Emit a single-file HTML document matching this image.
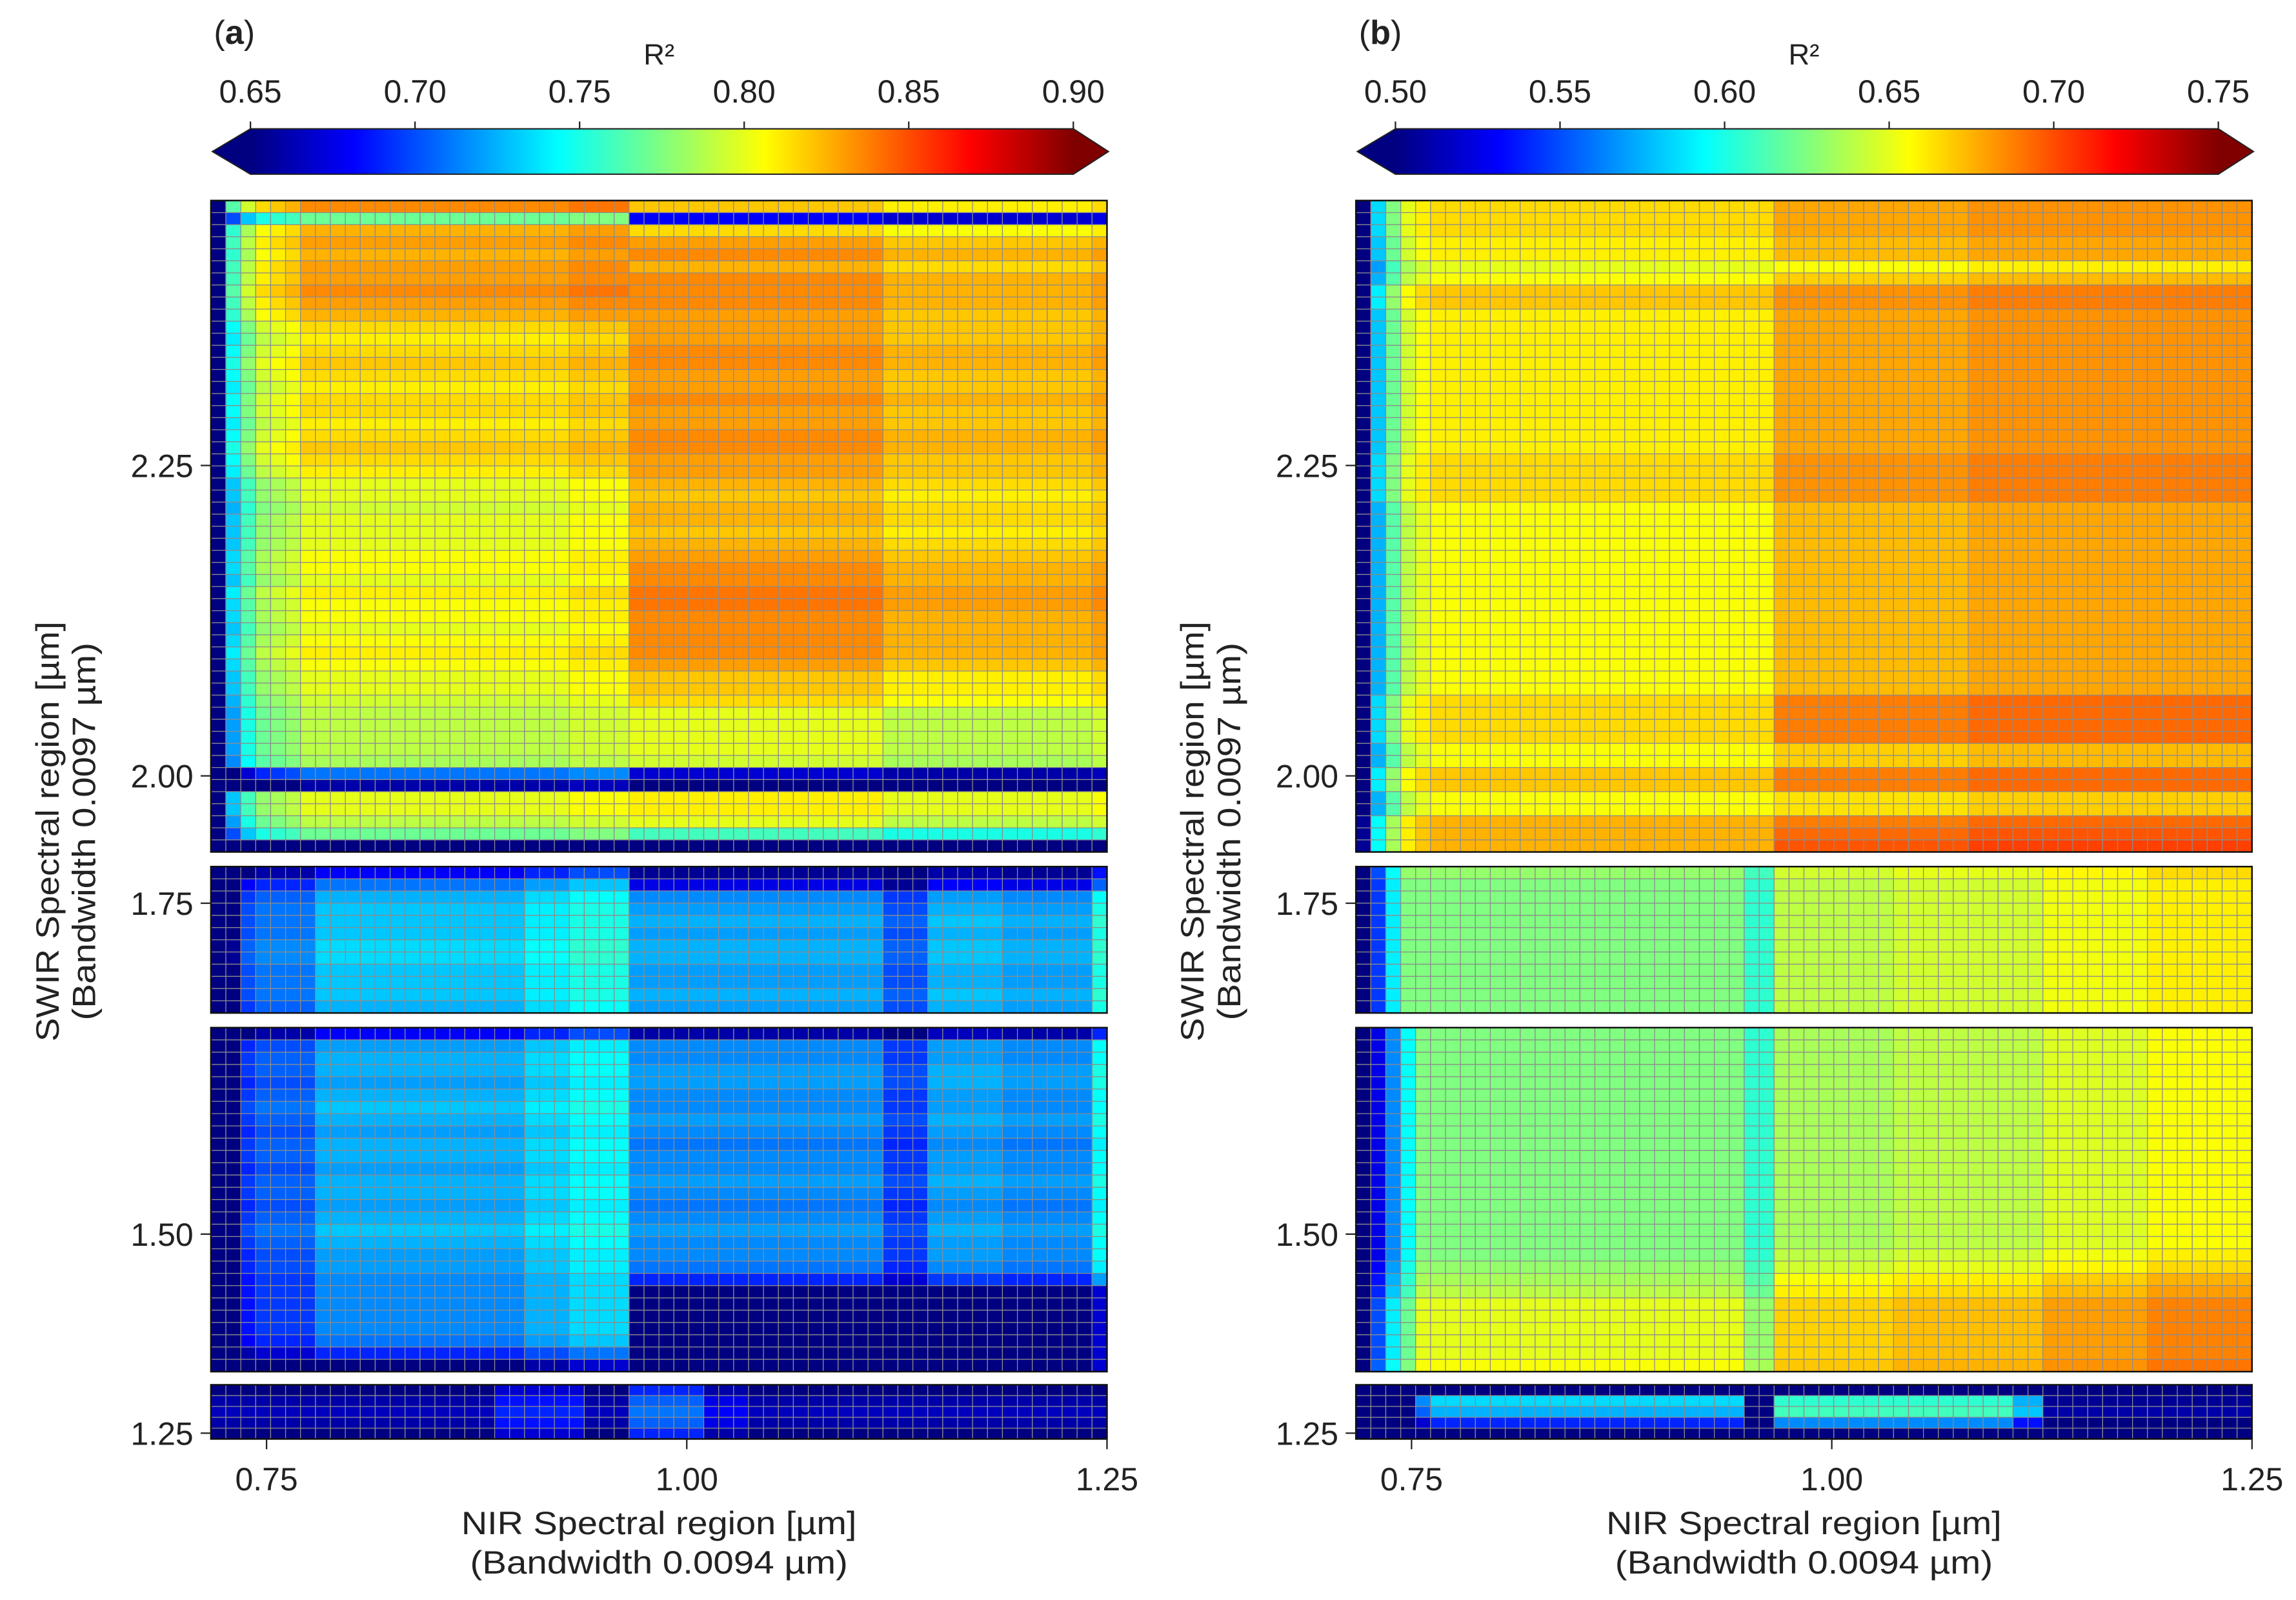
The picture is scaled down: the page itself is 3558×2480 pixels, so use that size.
<!DOCTYPE html>
<html><head><meta charset="utf-8"><title>R2 heatmaps</title>
<style>
html,body{margin:0;padding:0;background:#fff;}
svg{display:block;}
text{font-family:"Liberation Sans","DejaVu Sans",sans-serif;fill:#222;}
</style></head>
<body>
<svg id="fig" width="3558" height="2480" viewBox="0 0 1568 1093" xmlns="http://www.w3.org/2000/svg">
<defs id="defs"></defs>
</svg>
<script>
// ---------- data ----------
const nirTicks = [0.75, 1.00, 1.25];
const nirTickLabels = ["0.75", "1.00", "1.25"];
const swirTicks = [2.25, 2.00, 1.75, 1.50, 1.25];
const swirTickLabels = ["2.25", "2.00", "1.75", "1.50", "1.25"];
const cbarTicksA = [0.65, 0.70, 0.75, 0.80, 0.85, 0.90];
const cbarTickLabelsA = ["0.65", "0.70", "0.75", "0.80", "0.85", "0.90"];
const cbarTicksB = [0.50, 0.55, 0.60, 0.65, 0.70, 0.75];
const cbarTickLabelsB = ["0.50", "0.55", "0.60", "0.65", "0.70", "0.75"];
const nCols = 60;
const splitCol = 28;

// panel a, block 1 (54 rows top->bottom): left region / right region R2
const a1Left = [.835,.77,.825,.83,.825,.83,.83,.835,.83,.825,.815,.81,.815,.82,.815,.81,.815,.815,.81,.815,.82,.815,.81,.80,.80,.795,.80,.80,.80,.805,.805,.80,.81,.805,.805,.80,.805,.81,.805,.80,.80,.795,.79,.79,.79,.79,.785,.71,.66,.80,.80,.79,.77,.64];
const a1Right = [.82,.68,.815,.83,.835,.825,.835,.835,.835,.83,.83,.83,.835,.835,.83,.83,.835,.83,.83,.835,.835,.83,.83,.825,.82,.825,.825,.82,.825,.83,.835,.835,.84,.84,.835,.835,.835,.835,.83,.82,.82,.815,.80,.80,.80,.80,.795,.67,.64,.81,.81,.80,.76,.64];
const a1Col = [-.20,-.07,-.04,-.02,-.015,-.01,0,0,0,0,0,0,0,0,0,0,0,0,0,0,0,0,0,0,.005,.005,.005,.005,0,0,0,0,0,0,0,0,0,0,0,0,0,0,0,0,0,-.01,-.01,-.01,-.01,-.01,-.01,-.01,-.01,-.01,-.01,-.01,-.01,-.01,-.01,-.005];
// panel a, block 2 (12 rows)
const a2Left = [.68,.71,.725,.73,.73,.73,.735,.735,.73,.73,.73,.725];
const a2Right = [.655,.675,.715,.72,.725,.72,.725,.725,.72,.72,.725,.72];
// panel a, block 3 (28 rows)
const a3Left = [.68,.72,.725,.725,.72,.725,.73,.725,.72,.725,.725,.72,.725,.725,.72,.725,.73,.725,.72,.72,.715,.715,.715,.715,.715,.71,.69,.65];
const a3Right = [.66,.715,.715,.72,.72,.715,.715,.72,.715,.71,.715,.715,.72,.715,.71,.715,.72,.715,.715,.71,.69,.64,.64,.64,.64,.64,.64,.64];
const a23Col = [-.10,-.08,-.03,-.02,-.02,-.02,-.02,0,0,0,0,0,0,0,0,0,0,0,0,0,0,.01,.01,.01,.02,.02,.02,.02,0,0,0,0,0,0,0,0,0,0,0,0,0,0,0,0,0,-.02,-.02,-.02,.005,.005,.005,.005,.005,0,0,0,0,0,0,.03];
// panel a, block 4 (5 rows)
const a4Left = [.645,.66,.665,.66,.645];
const a4Right = [.645,.66,.665,.66,.645];
const a4Col = [0,0,0,0,0,0,0,0,0,0,0,0,0,0,0,0,0,0,0,.025,.025,.025,.025,.025,.025,0,0,0,.045,.045,.045,.045,.045,.015,.015,.015,0,0,0,0,0,0,0,0,0,0,0,0,0,0,0,0,0,0,0,0,0,0,0,0];

// panel b, block 1 (54 rows)
const b1Left = [.665,.665,.665,.66,.66,.65,.655,.67,.67,.66,.66,.66,.66,.66,.66,.66,.66,.66,.66,.66,.66,.665,.665,.665,.665,.655,.655,.655,.655,.655,.655,.655,.655,.655,.655,.655,.655,.655,.655,.655,.655,.665,.665,.665,.665,.655,.655,.67,.67,.655,.655,.675,.675,.675];
const b1Right = [.678,.678,.678,.673,.673,.655,.668,.683,.683,.678,.678,.678,.678,.678,.678,.678,.678,.678,.678,.678,.678,.683,.683,.683,.683,.673,.673,.673,.673,.673,.673,.673,.673,.673,.673,.673,.673,.673,.673,.673,.673,.688,.688,.688,.688,.668,.668,.688,.688,.663,.663,.688,.693,.698];
const b1Col = [-.17,-.08,-.04,-.015,-.005,0,0,0,0,0,0,0,0,0,0,0,0,0,0,0,0,0,0,0,0,0,0,0,0,0,0,0,0,0,0,0,0,0,0,0,0,.005,.005,.005,.005,.005,.005,.005,.005,.005,.005,.005,.005,.005,.005,.005,.005,.005,.005,.005];
// panel b, block 2 (12 rows)
const b2Left = [.63,.625,.625,.625,.625,.625,.625,.625,.625,.625,.625,.625];
const b2Right = [.65,.645,.645,.645,.645,.645,.645,.645,.645,.645,.645,.645];
const b2Col = [-.15,-.08,-.035,0,0,0,0,0,0,0,0,0,0,0,0,0,0,0,0,0,0,0,0,0,0,0,-.02,-.02,-.005,-.005,-.005,-.005,-.005,-.005,-.005,-.005,0,0,0,0,0,0,0,0,0,0,.008,.008,.008,.008,.008,.008,.008,.015,.015,.015,.015,.015,.015,.015];
// panel b, block 3 (28 rows)
const b3Left = [.625,.625,.625,.625,.625,.625,.625,.625,.625,.625,.625,.625,.625,.625,.625,.625,.625,.625,.625,.63,.635,.64,.65,.65,.65,.65,.65,.655];
const b3Right = [.64,.64,.64,.64,.64,.64,.64,.64,.64,.64,.64,.64,.64,.64,.64,.64,.64,.64,.645,.65,.66,.665,.672,.672,.672,.672,.672,.675];
const b3Col = [-.2,-.1,-.06,-.03,0,0,0,0,0,0,0,0,0,0,0,0,0,0,0,0,0,0,0,0,0,0,-.02,-.02,-.005,-.005,-.005,-.005,-.005,-.005,-.005,-.005,0,0,0,0,0,0,0,0,0,0,.008,.008,.008,.008,.008,.008,.008,.015,.015,.015,.015,.015,.015,.015];
// panel b, block 4 (5 rows)
const b4Left = [.48,.585,.575,.54,.48];
const b4Right = [.48,.605,.61,.565,.48];
const b4Col = [-.1,-.1,-.1,-.1,-.02,0,0,0,0,0,0,0,0,0,0,0,0,0,0,0,0,0,0,0,0,0,-.1,-.1,0,0,0,0,0,0,0,0,0,0,0,0,0,0,0,0,-.03,-.03,-.1,-.1,-.1,-.1,-.1,-.1,-.1,-.1,-.1,-.1,-.1,-.1,-.1,-.1];

// ---------- layout ----------
const NS = "http://www.w3.org/2000/svg";
const svg = document.getElementById("fig");
const defs = document.getElementById("defs");
const blocks = [
  {top:137, bottom:582, vTop:2.4634, vBot:1.9387},
  {top:592, bottom:692, vTop:1.7795, vBot:1.6616},
  {top:702, bottom:937, vTop:1.6663, vBot:1.3892},
  {top:946, bottom:983, vTop:1.2889, vBot:1.2453}
];
const panels = [
  {id:"a", dx:0, vmin:0.65, vmax:0.90, ticks:cbarTicksA, labels:cbarTickLabelsA,
   data:[[a1Left,a1Right,a1Col],[a2Left,a2Right,a23Col],[a3Left,a3Right,a23Col],[a4Left,a4Right,a4Col]]},
  {id:"b", dx:782, vmin:0.50, vmax:0.75, ticks:cbarTicksB, labels:cbarTickLabelsB,
   data:[[b1Left,b1Right,b1Col],[b2Left,b2Right,b2Col],[b3Left,b3Right,b3Col],[b4Left,b4Right,b4Col]]}
];
const X0 = 144, X1 = 756, XV0 = 0.7169, XV1 = 1.25;
function xScale(v, dx){ return dx + X0 + (v - XV0) / (XV1 - XV0) * (X1 - X0); }
function yScale(v, b){ return b.top + (b.vTop - v) / (b.vTop - b.vBot) * (b.bottom - b.top); }
function blockOf(v){ for (const b of blocks) if (v <= b.vTop + 1e-9 && v >= b.vBot - 1e-9) return b; return blocks[3]; }
function cl(x){ return Math.max(0, Math.min(1, x)); }
function jet(t){
  t = cl(t);
  const r = cl(Math.min(4*t-1.5, -4*t+4.5)), g = cl(Math.min(4*t-0.5, -4*t+3.5)), b = cl(Math.min(4*t+0.5, -4*t+2.5));
  return "rgb(" + Math.round(r*255) + "," + Math.round(g*255) + "," + Math.round(b*255) + ")";
}
function mk(tag, attrs, parent){
  const e = document.createElementNS(NS, tag);
  for (const k in attrs) e.setAttribute(k, attrs[k]);
  (parent || svg).appendChild(e);
  return e;
}
function txt(s, x, y, size, anchor, parent, extra){
  const t = mk("text", Object.assign({x:x, y:y, "font-size":size, "text-anchor":anchor||"middle"}, extra||{}), parent);
  t.textContent = s;
  return t;
}

panels.forEach(function(p){
  const g = mk("g", {});
  
  
  const dx = p.dx;
  const colW = (X1 - X0) / nCols;

  blocks.forEach(function(b, bi){
    const d = p.data[bi];
    const left = d[0], right = d[1], colAdj = d[2];
    const nRows = left.length;
    const rowH = (b.bottom - b.top) / nRows;
    const bg = mk("g", {}, g);
    
    
    for (let r = 0; r < nRows; r++){
      for (let c = 0; c < nCols; c++){
        const v = (c < splitCol ? left[r] : right[r]) + colAdj[c];
        const t = (v - p.vmin) / (p.vmax - p.vmin);
        const cell = mk("rect", {x:(dx + X0 + c*colW).toFixed(2), y:(b.top + r*rowH).toFixed(2),
          width:colW.toFixed(2), height:rowH.toFixed(2), fill:jet(t), stroke:"#8c8c8c", "stroke-width":0.55}, bg);
        
        
      }
    }
    const frame = mk("rect", {x:dx+X0, y:b.top, width:X1-X0, height:b.bottom-b.top, fill:"none", stroke:"#111", "stroke-width":1.1}, g);
    
    
  });

  swirTicks.forEach(function(v, i){
    const b = blockOf(v);
    const y = yScale(v, b);
    mk("line", {x1:dx+X0-7, x2:dx+X0, y1:y, y2:y, stroke:"#222", "stroke-width":1}, g);
    const t = txt(swirTickLabels[i], dx+X0-12, y+8, 22, "end", g);
    
    
  });
  nirTicks.forEach(function(v, i){
    const x = xScale(v, dx);
    mk("line", {x1:x, x2:x, y1:983, y2:990, stroke:"#222", "stroke-width":1}, g);
    const t = txt(nirTickLabels[i], x, 1018, 22, "middle", g);
    
    
  });
  const xc = dx + (X0 + X1)/2;
  const xt1 = txt("NIR Spectral region [µm]", xc, 1048, 22, "middle", g, {textLength:270, lengthAdjust:"spacingAndGlyphs"});
  
  
  const xt2 = txt("(Bandwidth 0.0094 µm)", xc, 1075, 22, "middle", g, {textLength:258, lengthAdjust:"spacingAndGlyphs"});
  
  
  const yt1 = txt("SWIR Spectral region [µm]", 0, 0, 22, "middle", g, {textLength:287, lengthAdjust:"spacingAndGlyphs", transform:"translate(" + (dx+40) + ",568) rotate(-90)"});
  
  
  const yt2 = txt("(Bandwidth 0.0097 µm)", 0, 0, 22, "middle", g, {textLength:258, lengthAdjust:"spacingAndGlyphs", transform:"translate(" + (dx+65) + ",568) rotate(-90)"});
  
  

  const cb0 = dx + 171, cb1 = dx + 733, cTop = 88, cBot = 119, cMid = (cTop + cBot)/2;
  const grad = mk("linearGradient", {id:"grad-" + p.id, x1:"0", x2:"1", y1:"0", y2:"0"}, defs);
  for (let i = 0; i <= 40; i++){
    mk("stop", {offset:(i/40).toFixed(3), "stop-color":jet(i/40)}, grad);
  }
  const cg = mk("g", {}, g);
  
  
  mk("rect", {x:cb0, y:cTop, width:cb1-cb0, height:cBot-cTop, fill:"url(#grad-" + p.id + ")"}, cg);
  mk("polygon", {points:(cb0+0.5)+","+cTop+" "+(dx+145)+","+cMid+" "+(cb0+0.5)+","+cBot, fill:jet(0)}, cg);
  mk("polygon", {points:(cb1-0.5)+","+cTop+" "+(dx+757)+","+cMid+" "+(cb1-0.5)+","+cBot, fill:jet(1)}, cg);
  mk("polygon", {points:cb0+","+cTop+" "+cb1+","+cTop+" "+(dx+757)+","+cMid+" "+cb1+","+cBot+" "+cb0+","+cBot+" "+(dx+145)+","+cMid,
    fill:"none", stroke:"#222", "stroke-width":0.9}, cg);
  p.ticks.forEach(function(v, i){
    const x = cb0 + (v - p.vmin)/(p.vmax - p.vmin)*(cb1 - cb0);
    mk("line", {x1:x, x2:x, y1:cTop-5, y2:cTop, stroke:"#222", "stroke-width":1}, cg);
    const t = txt(p.labels[i], x, 70, 22, "middle", cg);
    
    
  });
  const ct = txt("R²", dx + 450, 44, 20, "middle", cg);
  
  

  const pl = mk("text", {x:dx+146, y:30, "font-size":23, "text-anchor":"start"}, g);
  
  
  const s1 = mk("tspan", {}, pl); s1.textContent = "(";
  const s2 = mk("tspan", {"font-weight":"bold"}, pl); s2.textContent = p.id;
  const s3 = mk("tspan", {}, pl); s3.textContent = ")";
});
</script>
</body></html>
